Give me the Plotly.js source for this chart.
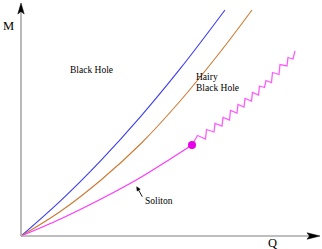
<!DOCTYPE html>
<html>
<head>
<meta charset="utf-8">
<script src="https://cdn.plot.ly/plotly-3.0.1.min.js"></script>
<style>html,body{margin:0;padding:0;background:#fff;}#chart{width:322px;height:249px;}</style>
</head>
<body>
<div id="chart"></div>
<script>
// Charge Q vs mass M (arbitrary units)
var blackHoleQ = [0, 0.40, 0.80, 1.20, 1.60, 2.04];
var blackHoleM = [0, 0.357, 0.757, 1.199, 1.683, 2.26];

var hairyQ = [0, 0.40, 0.80, 1.20, 1.60, 2.00, 2.31];
var hairyM = [0, 0.25, 0.56, 0.925, 1.36, 1.85, 2.26];

var solitonQ = [0, 0.40, 0.80, 1.20, 1.50, 1.71];
var solitonM = [0, 0.173, 0.37, 0.588, 0.775, 0.91];

var endQ = [1.71];
var endM = [0.91];

var waveQ = [1.71, 1.765, 1.845, 1.855, 1.93, 1.94, 2.01, 2.02, 2.085, 2.095, 2.16, 2.17, 2.23, 2.24,
             2.305, 2.315, 2.375, 2.385, 2.435, 2.45, 2.505, 2.515, 2.58, 2.59, 2.66, 2.67, 2.72, 2.74];
var waveM = [0.91, 1.005, 0.97, 1.065, 1.04, 1.125, 1.10, 1.185, 1.16, 1.255, 1.23, 1.315, 1.29, 1.375,
             1.35, 1.435, 1.41, 1.50, 1.485, 1.555, 1.535, 1.635, 1.615, 1.715, 1.70, 1.785, 1.77, 1.85];

var labelTexts = ["M", "Q", "Black Hole", "Hairy", "Black Hole", "Soliton"];

var serif = "Liberation Serif";

var traces = [
  {x: blackHoleQ, y: blackHoleM, mode: "lines", line: {color: "#3c3cf0", width: 1.1, shape: "spline", smoothing: 1}, hoverinfo: "skip"},
  {x: hairyQ, y: hairyM, mode: "lines", line: {color: "#cc7a33", width: 1.1, shape: "spline", smoothing: 1}, hoverinfo: "skip"},
  {x: solitonQ, y: solitonM, mode: "lines", line: {color: "#ff33ff", width: 1.1, shape: "spline", smoothing: 1}, hoverinfo: "skip"},
  {x: waveQ, y: waveM, mode: "lines", line: {color: "#ff5cff", width: 1.3}, hoverinfo: "skip"},
  {x: endQ, y: endM, mode: "markers", marker: {color: "#e800e8", size: 8}, hoverinfo: "skip"}
];

var axisGray = "#a8a8a8";
var layout = {
  width: 322, height: 249,
  margin: {l: 0, r: 0, t: 0, b: 0, pad: 0},
  paper_bgcolor: "#ffffff", plot_bgcolor: "#ffffff",
  showlegend: false,
  font: {family: serif},
  xaxis: {range: [-0.21, 3.01], showgrid: false, zeroline: false, showticklabels: false, ticks: "", showline: false, fixedrange: true},
  yaxis: {range: [-0.13, 2.36], showgrid: false, zeroline: false, showticklabels: false, ticks: "", showline: false, fixedrange: true},
  shapes: [
    {type: "line", x0: 0, y0: 0, x1: 0, y1: 2.26, line: {color: axisGray, width: 1.6}},
    {type: "line", x0: 0, y0: 0, x1: 2.9, y1: 0, line: {color: axisGray, width: 1.6}},
    {type: "path", path: "M -0.032 2.22 L 0 2.33 L 0.032 2.22 L 0 2.245 Z", fillcolor: "#000", line: {color: "#000", width: 0.5}},
    {type: "path", path: "M 2.86 -0.032 L 2.99 0 L 2.86 0.032 L 2.885 0 Z", fillcolor: "#000", line: {color: "#000", width: 0.5}},
    {type: "line", x0: 1.213, y0: 0.393, x1: 1.1766, y1: 0.4581, line: {color: "#000", width: 0.9}},
    {type: "path", path: "M 1.157 0.493 L 1.1923 0.4669 L 1.1609 0.4493 Z", fillcolor: "#000", line: {color: "#000", width: 0.5}}
  ],
  annotations: [
    {x: -0.13, y: 2.10, text: labelTexts[0], showarrow: false, font: {family: serif, size: 12.5, color: "#000"}},
    {x: 2.51, y: -0.07, text: labelTexts[1], showarrow: false, font: {family: serif, size: 12.5, color: "#000"}},
    {x: 0.70, y: 1.665, text: labelTexts[2], showarrow: false, font: {family: serif, size: 9.5, color: "#000"}},
    {x: 1.73, y: 1.595, xanchor: "left", text: labelTexts[3], showarrow: false, font: {family: serif, size: 9.5, color: "#000"}},
    {x: 1.73, y: 1.485, xanchor: "left", text: labelTexts[4], showarrow: false, font: {family: serif, size: 9.5, color: "#000"}},
    {x: 1.22, y: 0.353, xanchor: "left", text: labelTexts[5], showarrow: false, font: {family: serif, size: 9.5, color: "#000"}}
  ]
};

Plotly.newPlot("chart", traces, layout, {staticPlot: true, displayModeBar: false});
</script>
</body>
</html>
